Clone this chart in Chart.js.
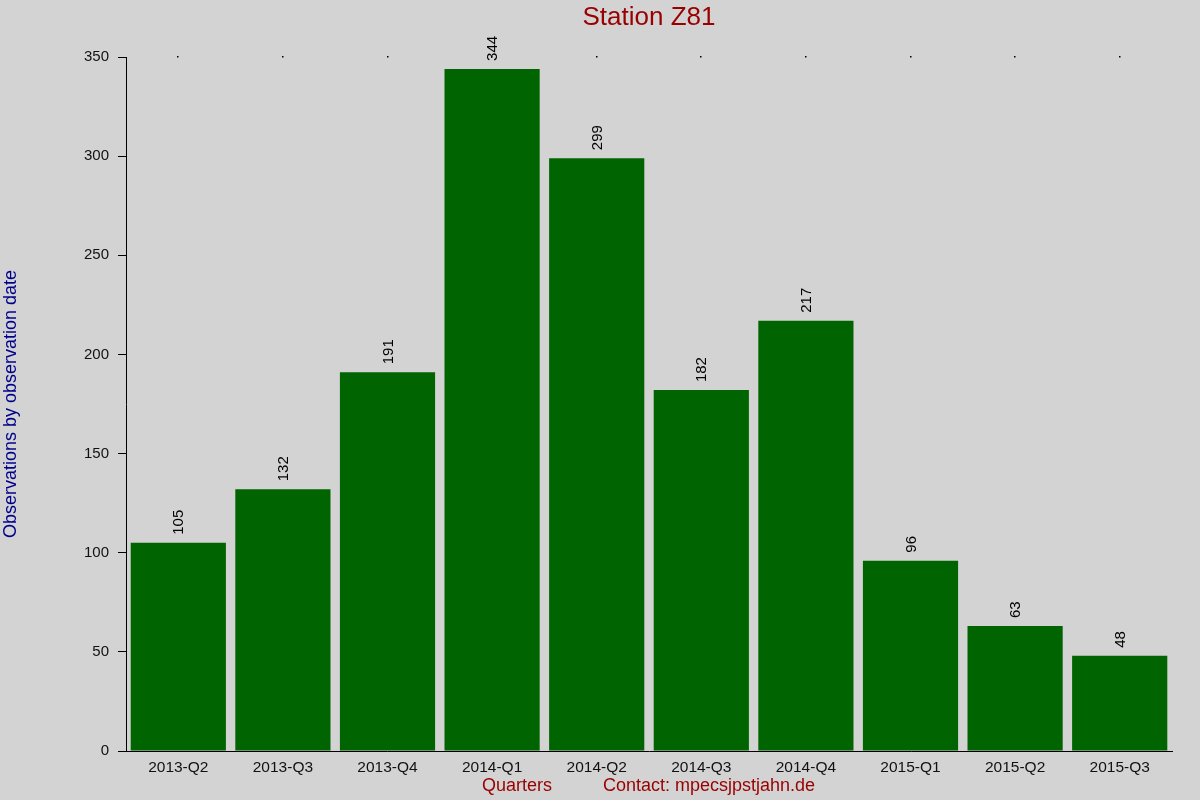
<!DOCTYPE html>
<html lang="en">
<head>
  <meta charset="UTF-8" />
  <title>Station Z81</title>
  <script src="https://cdn.jsdelivr.net/npm/chart.js"></script>
  <style>
    html, body { margin: 0; padding: 0; background: #d3d3d3; }
    canvas { display: block; }
  </style>
</head>
<body>
  <canvas id="stationChart" width="1200" height="800"></canvas>
  <script>
    // data
    const quarters = ['2013-Q2', '2013-Q3', '2013-Q4', '2014-Q1', '2014-Q2',
                      '2014-Q3', '2014-Q4', '2015-Q1', '2015-Q2', '2015-Q3'];
    const observations = [105, 132, 191, 344, 299, 182, 217, 96, 63, 48];
    const yTicks = [0, 50, 100, 150, 200, 250, 300, 350];

    const FONT = '"Liberation Sans", Arial, sans-serif';

    // background, titles, top dots and rotated value labels
    const decorPlugin = {
      id: 'decor',
      beforeDraw(chart) {
        const c = chart.ctx;
        c.save();
        c.fillStyle = '#d3d3d3';
        c.fillRect(0, 0, chart.width, chart.height);
        c.restore();
      },
      afterDraw(chart) {
        const c = chart.ctx;
        const area = chart.chartArea;
        const x = chart.scales.x;
        const y = chart.scales.y;
        c.save();

        // title
        c.fillStyle = '#990000';
        c.font = '26px ' + FONT;
        c.textAlign = 'center';
        c.textBaseline = 'middle';
        c.fillText('Station Z81', (area.left + area.right) / 2, 18);

        // bottom titles
        c.font = '18px ' + FONT;
        c.textAlign = 'left';
        c.fillText('Quarters', 482, 786);
        c.fillText('Contact: mpecsjpstjahn.de', 603, 786);

        // y title
        c.fillStyle = '#00008b';
        c.translate(11, (area.top + area.bottom) / 2);
        c.rotate(-Math.PI / 2);
        c.textAlign = 'center';
        c.fillText('Observations by observation date', 0, 0);
        c.restore();

        // tiny dots at the top
        c.save();
        c.fillStyle = '#000';
        quarters.forEach((q, i) => {
          const px = Math.round(x.getPixelForValue(i));
          c.fillRect(px - 1, Math.round(area.top) - 1, 1.5, 1.5);
        });
        c.restore();

        // value labels
        c.save();
        c.fillStyle = '#000';
        c.font = '15px ' + FONT;
        c.textAlign = 'left';
        c.textBaseline = 'middle';
        const meta = chart.getDatasetMeta(0);
        meta.data.forEach((bar, i) => {
          c.save();
          c.translate(bar.x + 1, bar.y - 8);
          c.rotate(-Math.PI / 2);
          c.fillText(String(observations[i]), 0, 0);
          c.restore();
        });
        c.restore();
      }
    };

    const ctx = document.getElementById('stationChart').getContext('2d');
    const stationChart = new Chart(ctx, {
      type: 'bar',
      data: {
        labels: quarters,
        datasets: [{
          label: 'Observations',
          data: observations,
          backgroundColor: '#006400',
          borderWidth: 0,
          categoryPercentage: 1.0,
          barPercentage: 0.91
        }]
      },
      options: {
        responsive: false,
        animation: false,
        devicePixelRatio: 1,
        layout: { padding: { top: 57, right: 28, left: 0, bottom: 0 } },
        plugins: {
          legend: { display: false },
          tooltip: { enabled: false }
        },
        scales: {
          x: {
            grid: { display: false, drawTicks: false },
            border: { display: true, color: '#000', width: 1 },
            ticks: {
              color: '#111',
              font: { family: FONT, size: 15.5 },
              padding: 7,
              maxRotation: 0,
              autoSkip: false
            },
            afterFit(scale) { scale.height = 49; }
          },
          y: {
            min: 0,
            max: 350,
            afterBuildTicks(scale) {
              scale.ticks = yTicks.map(v => ({ value: v }));
            },
            grid: {
              drawOnChartArea: false,
              drawTicks: true,
              tickLength: 8,
              color: '#000'
            },
            border: { display: true, color: '#000', width: 1 },
            ticks: {
              color: '#111',
              font: { family: FONT, size: 15 },
              padding: 9
            },
            afterFit(scale) { scale.width = 126; }
          }
        }
      },
      plugins: [decorPlugin]
    });
  </script>
</body>
</html>
